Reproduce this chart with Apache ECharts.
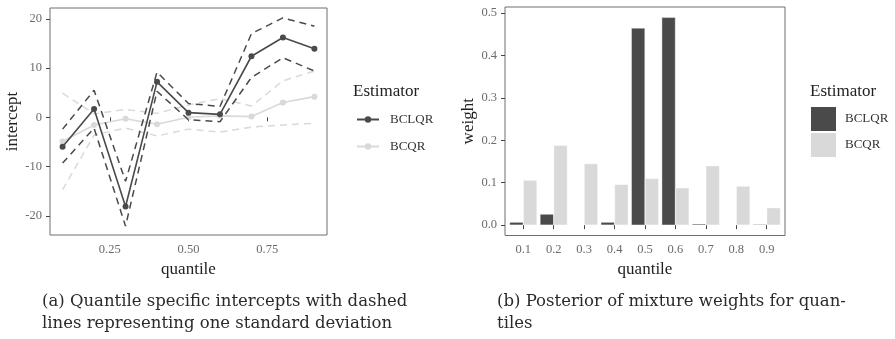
<!DOCTYPE html>
<html><head><meta charset="utf-8">
<script src="https://cdn.jsdelivr.net/npm/echarts@6/dist/echarts.min.js"></script>
<style>html,body{margin:0;padding:0;background:#fff}#c{width:895px;height:339px}</style>
</head><body><div id="c"></div>
<script>
// ---- data ----
var quantiles = [0.1, 0.2, 0.3, 0.4, 0.5, 0.6, 0.7, 0.8, 0.9];
var bclqrIntercept = [-6.0, 1.7, -18.1, 7.2, 0.95, 0.6, 12.4, 16.2, 13.9];
var bclqrUpper = [-2.4, 5.5, -13.0, 9.2, 2.8, 2.2, 17.0, 20.2, 18.5];
var bclqrLower = [-9.3, -2.2, -22.1, 5.3, -0.5, -0.9, 8.1, 12.1, 9.4];
var bcqrIntercept = [-4.9, -1.55, -0.3, -1.4, 0.0, 0.3, 0.15, 3.0, 4.2];
var bcqrUpper = [4.9, 0.7, 1.6, 0.8, 2.5, 3.8, 2.3, 7.4, 9.4];
var bcqrLower = [-14.7, -3.6, -2.2, -3.8, -2.4, -3.0, -2.0, -1.55, -1.2];
var bclqrWeight = [0.007, 0.026, 0.001, 0.007, 0.465, 0.49, 0.003, 0.001, 0.002];
var bcqrWeight = [0.106, 0.188, 0.145, 0.096, 0.11, 0.088, 0.14, 0.092, 0.041];
var leftXTicks = [0.25, 0.5, 0.75];
var leftYTicks = [-20, -10, 0, 10, 20];
var rightXTicks = [0.1, 0.2, 0.3, 0.4, 0.5, 0.6, 0.7, 0.8, 0.9];
var rightYTicks = [0, 0.1, 0.2, 0.3, 0.4, 0.5];

var DARK = '#4a4a4a', LIGHT = '#d9d9d9';
var FONT = '"Liberation Serif", serif';
var CAPFONT = '"DejaVu Serif", serif';
function pairs(ys){ return quantiles.map(function(q,i){ return [q, ys[i]]; }); }

function axisCommon(ticks, fmt){
  return {
    axisLine: {show:false},
    axisTick: {show:true, length:4, lineStyle:{color:'#444', width:1}, customValues: ticks},
    axisLabel: {color:'#6b6b6b', fontFamily:FONT, fontSize:12.5, margin:8, customValues: ticks,
      formatter: fmt},
    splitLine: {show:false},
    nameTextStyle: {color:'#222', fontFamily:FONT, fontSize:17}
  };
}
function merge(a,b){ for (var k in b) a[k]=b[k]; return a; }

var chart = echarts.init(document.getElementById('c'), null, {renderer:'canvas'});
var dashDark = {color:DARK, width:1.5, type:[7,5]};
var dashLight = {color:LIGHT, width:1.5, type:[7,5]};

var option = {
  animation: false,
  backgroundColor: '#fff',
  grid: [
    {left:50, top:8, width:277, height:227, show:true, borderColor:'#6e6e6e', borderWidth:1, backgroundColor:'transparent'},
    {left:505, top:7, width:280, height:228.5, show:true, borderColor:'#6e6e6e', borderWidth:1, backgroundColor:'transparent'}
  ],
  xAxis: [
    merge(axisCommon(leftXTicks, function(v){return v.toFixed(2);}), {type:'value', gridIndex:0, min:0.06, max:0.94,
      name:'quantile', nameLocation:'middle', nameGap:22}),
    merge(axisCommon(rightXTicks, function(v){return v.toFixed(1);}), {type:'value', gridIndex:1, min:0.04, max:0.96,
      name:'quantile', nameLocation:'middle', nameGap:22})
  ],
  yAxis: [
    merge(axisCommon(leftYTicks, function(v){return String(v);}), {type:'value', gridIndex:0, min:-23.9, max:22.2,
      name:'intercept', nameLocation:'middle', nameGap:28}),
    merge(axisCommon(rightYTicks, function(v){return v.toFixed(1);}), {type:'value', gridIndex:1, min:-0.0245, max:0.5145,
      name:'weight', nameLocation:'middle', nameGap:28})
  ],
  title: [
    {text:'Estimator', left:353, top:83, padding:0, textStyle:{fontFamily:FONT, fontSize:17, fontWeight:'normal', color:'#222'}},
    {text:'Estimator', left:810, top:83, padding:0, textStyle:{fontFamily:FONT, fontSize:17, fontWeight:'normal', color:'#222'}},
    {text:'(a) Quantile specific intercepts with dashed\nlines representing one standard deviation', left:42, top:291, padding:0,
      textStyle:{fontFamily:CAPFONT, fontSize:16.5, fontWeight:'normal', color:'#2a2a2a', lineHeight:22}},
    {text:'(b) Posterior of mixture weights for quan-\ntiles', left:497, top:291, padding:0,
      textStyle:{fontFamily:CAPFONT, fontSize:16.5, fontWeight:'normal', color:'#2a2a2a', lineHeight:22}}
  ],
  legend: [
    {data:['BCLQR','BCQR'], orient:'vertical', left:356, top:113, padding:0, itemWidth:22, itemHeight:8, itemGap:14,
      textStyle:{fontFamily:FONT, fontSize:13, color:'#333', padding:[0,0,0,6]}, selectedMode:false},
    {data:['BCLQR','BCQR'], orient:'vertical', left:811, top:107, padding:0, itemWidth:25, itemHeight:24, itemGap:2, icon:'rect',
      textStyle:{fontFamily:FONT, fontSize:13, color:'#333', padding:[0,0,0,4]}, selectedMode:false}
  ],
  series: [
    {name:'BCLQR', type:'line', xAxisIndex:0, yAxisIndex:0, data:pairs(bclqrIntercept), symbol:'circle', symbolSize:6,
      lineStyle:{color:DARK, width:1.6}, itemStyle:{color:DARK}, z:5},
    {name:'BCQR', type:'line', xAxisIndex:0, yAxisIndex:0, data:pairs(bcqrIntercept), symbol:'circle', symbolSize:6,
      lineStyle:{color:LIGHT, width:1.6}, itemStyle:{color:LIGHT}, z:3},
    {name:'BCQR upper', type:'line', xAxisIndex:0, yAxisIndex:0, data:pairs(bcqrUpper), symbol:'none', lineStyle:dashLight, itemStyle:{color:LIGHT}, z:2},
    {name:'BCQR lower', type:'line', xAxisIndex:0, yAxisIndex:0, data:pairs(bcqrLower), symbol:'none', lineStyle:dashLight, itemStyle:{color:LIGHT}, z:2},
    {name:'BCLQR upper', type:'line', xAxisIndex:0, yAxisIndex:0, data:pairs(bclqrUpper), symbol:'none', lineStyle:dashDark, itemStyle:{color:DARK}, z:4},
    {name:'BCLQR lower', type:'line', xAxisIndex:0, yAxisIndex:0, data:pairs(bclqrLower), symbol:'none', lineStyle:dashDark, itemStyle:{color:DARK}, z:4},
    {name:'BCLQR', type:'bar', xAxisIndex:1, yAxisIndex:1, data:pairs(bclqrWeight), barGap:'0%', barCategoryGap:'10%',
      itemStyle:{color:DARK, borderColor:'#fff', borderWidth:0.4}},
    {name:'BCQR', type:'bar', xAxisIndex:1, yAxisIndex:1, data:pairs(bcqrWeight), barGap:'0%', barCategoryGap:'10%',
      itemStyle:{color:LIGHT, borderColor:'#fff', borderWidth:0.4}}
  ]
};
chart.setOption(option);
</script></body></html>
